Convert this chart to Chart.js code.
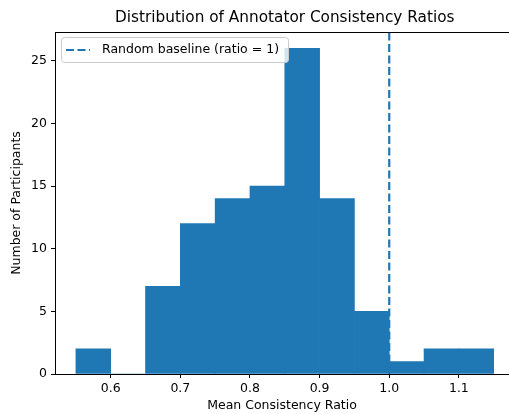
<!DOCTYPE html>
<html>
<head>
<meta charset="utf-8">
<script src="https://cdn.jsdelivr.net/npm/chart.js@4/dist/chart.umd.min.js"></script>
<style>
    html, body { margin: 0; padding: 0; background: #fff; }
    #wrap { width: 509px; height: 414px; }
</style>
</head>
<body>
<div id="wrap"><canvas id="hist" width="509" height="414"></canvas></div>
<script>
// histogram data (bin left edges, width 0.05)
const binStarts = [0.55, 0.60, 0.65, 0.70, 0.75, 0.80, 0.85, 0.90, 0.95, 1.00, 1.05, 1.10];
const counts = [2, 0, 7, 12, 14, 15, 26, 14, 5, 1, 2, 2];
const binWidth = 0.05;
const xTicks = [0.6, 0.7, 0.8, 0.9, 1.0, 1.1];
const yTicks = [0, 5, 10, 15, 20, 25];
const baselineRatio = 1;
const xMin = 0.52, xMax = 1.172, xCenter = 0.85;
const yMax = 27.3;

const titleText = "Distribution of Annotator Consistency Ratios";
const legendText = "Random baseline (ratio = 1)";
const FONT = "'DejaVu Sans', sans-serif";
const BLUE = "#1f77b4";
const SMALL = 12.5;

// title, top spine and legend box drawn on top of the plot
const decorPlugin = {
    id: "decor",
    afterDraw(chart) {
        const ctx = chart.ctx;
        const area = chart.chartArea;
        const x = chart.scales.x;
        ctx.save();

        // top spine
        ctx.strokeStyle = "#000";
        ctx.lineWidth = 1;
        ctx.beginPath();
        ctx.moveTo(area.left, area.top + 0.5);
        ctx.lineTo(area.right, area.top + 0.5);
        ctx.stroke();

        // title
        ctx.fillStyle = "#000";
        ctx.font = "15.3px " + FONT;
        ctx.textAlign = "center";
        ctx.textBaseline = "middle";
        ctx.fillText(titleText, x.getPixelForValue(xCenter), 18);

        // legend
        ctx.font = SMALL + "px " + FONT;
        const tw = ctx.measureText(legendText).width;
        const bx = area.left + 6, by = area.top + 5, bh = 25;
        const bw = 41 + tw + 9;
        ctx.beginPath();
        ctx.roundRect(bx + 0.5, by + 0.5, bw, bh, 3);
        ctx.fillStyle = "rgba(255,255,255,0.8)";
        ctx.fill();
        ctx.strokeStyle = "#cccccc";
        ctx.stroke();

        const ly = by + bh / 2 + 0.5;
        ctx.strokeStyle = BLUE;
        ctx.lineWidth = 2.2;
        ctx.setLineDash([8, 3.5]);
        ctx.beginPath();
        ctx.moveTo(bx + 5, ly);
        ctx.lineTo(bx + 29, ly);
        ctx.stroke();
        ctx.setLineDash([]);

        ctx.fillStyle = "#000";
        ctx.textAlign = "left";
        ctx.fillText(legendText, bx + 41, ly);
        ctx.restore();
    }
};

const barData = binStarts.map((s, i) => ({ x: s + binWidth / 2, y: counts[i] }));
const baselineData = [{ x: baselineRatio, y: 0 }, { x: baselineRatio, y: yMax }];

const axisCommon = {
    offset: false,
    grid: { display: true, offset: false, drawOnChartArea: false, drawTicks: true, tickLength: 4, color: "#000" },
    border: { display: true, color: "#000", width: 1 },
};

new Chart(document.getElementById("hist").getContext("2d"), {
    type: "bar",
    data: {
        datasets: [
            {
                type: "bar",
                data: barData,
                backgroundColor: BLUE,
                borderWidth: 0,
                barPercentage: 1,
                categoryPercentage: 1,
            },
            {
                type: "line",
                data: baselineData,
                borderColor: BLUE,
                borderWidth: 2.2,
                borderDash: [8, 3.5],
                pointRadius: 0,
                fill: false,
            },
        ],
    },
    options: {
        responsive: false,
        animation: false,
        layout: { padding: { top: 32, left: 0, right: 0, bottom: 0 } },
        plugins: {
            legend: { display: false },
            title: { display: false },
            tooltip: { enabled: false },
        },
        scales: {
            x: {
                ...axisCommon,
                type: "linear",
                min: xMin,
                max: xMax,
                afterBuildTicks: (s) => { s.ticks = xTicks.map((v) => ({ value: v })); },
                afterFit: (s) => { s.height = 40; },
                ticks: {
                    color: "#000",
                    padding: 3,
                    font: { family: FONT, size: SMALL },
                    callback: (v) => Number(v).toFixed(1),
                },
                title: {
                    display: true,
                    text: "Mean Consistency Ratio",
                    color: "#000",
                    font: { family: FONT, size: SMALL },
                    padding: { top: 0, bottom: 0.5 },
                },
            },
            y: {
                ...axisCommon,
                min: 0,
                max: yMax,
                afterBuildTicks: (s) => { s.ticks = yTicks.map((v) => ({ value: v })); },
                afterFit: (s) => { s.width = 55; },
                ticks: {
                    color: "#000",
                    padding: 4,
                    font: { family: FONT, size: SMALL },
                },
                title: {
                    display: true,
                    text: "Number of Participants",
                    color: "#000",
                    font: { family: FONT, size: SMALL },
                    padding: { top: 9, bottom: 0 },
                },
            },
        },
    },
    plugins: [decorPlugin],
});
</script>
</body>
</html>
